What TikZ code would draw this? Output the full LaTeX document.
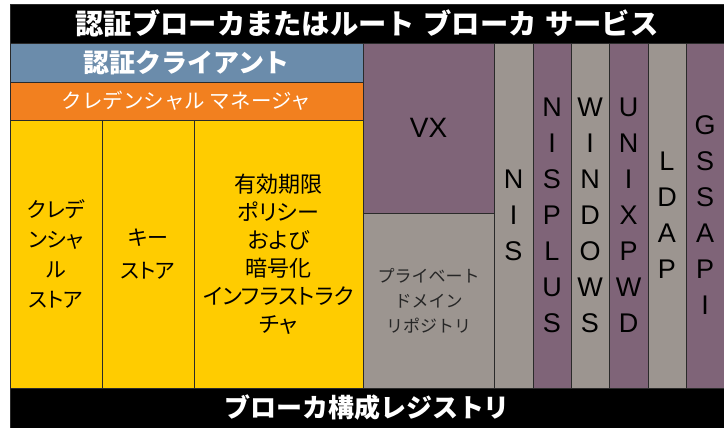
\documentclass[tikz,border=0pt]{standalone}
\usepackage{fontspec}
\setmainfont{Liberation Sans}
\newfontfamily\jp[RawFeature=+palt]{Noto Sans CJK JP}
\newfontfamily\jpf{Noto Sans CJK JP}
\definecolor{cblue}{HTML}{6B8CAB}
\definecolor{corange}{HTML}{F2801F}
\definecolor{cyellow}{HTML}{FFCC00}
\definecolor{cpurple}{HTML}{7F6478}
\definecolor{cgray}{HTML}{9C9590}
\definecolor{cline}{HTML}{2A2A2A}
\tikzset{
  cell/.style={draw=cline, line width=0.8pt, anchor=north west, inner sep=0pt, outer sep=0pt, align=center},
  barb/.style={cell, fill=black, text=white},
  yel/.style={cell, fill=cyellow, text=black},
  pur/.style={cell, fill=cpurple, text=black},
  gry/.style={cell, fill=cgray, text=black},
  vlet/.style={font=\fontsize{27}{36}\selectfont},
}
\begin{document}
\begin{tikzpicture}[x=1pt,y=-1pt]
\useasboundingbox (0,0) rectangle (724,428);
\node[barb, font=\jpf\bfseries\fontsize{28.3}{32}\selectfont, minimum width=714pt, minimum height=39pt] (title) at (10,4) {認証ブローカまたはルート\hspace{0.3em}ブローカ\hspace{0.3em}サービス};
\node[cell, fill=cblue, text=white, font=\jpf\bfseries\fontsize{26}{30}\selectfont, minimum width=353pt, minimum height=39pt] (client) at (10,43) {認証クライアント};
\node[cell, fill=corange, text=white, font=\jpf\fontsize{20.5}{24}\selectfont, minimum width=353pt, minimum height=38pt] (credmgr) at (10,82) {クレデンシャル マネージャ};
\node[yel, font=\jp\fontsize{21}{30}\selectfont, minimum width=92pt, minimum height=268pt] (credstore) at (10,120) {クレデ\\ンシャ\\ル\\ストア};
\node[yel, font=\jp\fontsize{21}{33}\selectfont, minimum width=92pt, minimum height=268pt] (keystore) at (102,120) {キー\\ストア};
\node[yel, font=\jp\fontsize{22}{28}\selectfont, minimum width=169pt, minimum height=268pt] (policy) at (194,120) {有効期限\\ポリシー\\および\\暗号化\\インフラストラク\\チャ};
\node[pur, font=\fontsize{28}{32}\selectfont, minimum width=131pt, minimum height=170pt] (vx) at (363,43) {VX};
\node[gry, text=black!85, font=\jpf\fontsize{17}{25}\selectfont, minimum width=131pt, minimum height=175pt] (priv) at (363,213) {プライベート\\ドメイン\\リポジトリ};
\node[gry, vlet, minimum width=39pt, minimum height=345pt] (nis) at (494,43) {N\\I\\S};
\node[pur, vlet, minimum width=38pt, minimum height=345pt] (nisplus) at (533,43) {N\\I\\S\\P\\L\\U\\S};
\node[gry, vlet, minimum width=38pt, minimum height=345pt] (windows) at (571,43) {W\\I\\N\\D\\O\\W\\S};
\node[pur, vlet, minimum width=39pt, minimum height=345pt] (unixpwd) at (609,43) {U\\N\\I\\X\\P\\W\\D};
\node[gry, vlet, minimum width=38pt, minimum height=345pt] (ldap) at (648,43) {L\\D\\A\\P};
\node[pur, vlet, minimum width=38pt, minimum height=345pt] (gssapi) at (686,43) {G\\S\\S\\A\\P\\I};
\node[barb, font=\jpf\bfseries\fontsize{26}{30}\selectfont, minimum width=714pt, minimum height=40pt] (registry) at (10,388) {ブローカ構成レジストリ};
\end{tikzpicture}
\end{document}
